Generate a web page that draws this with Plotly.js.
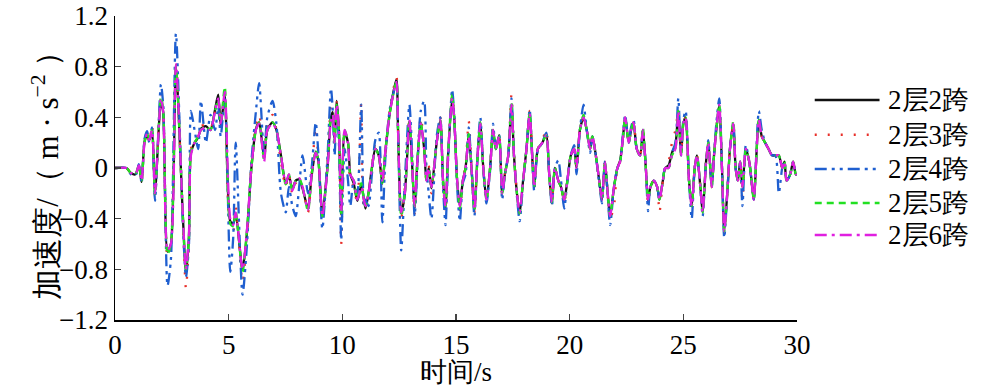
<!DOCTYPE html>
<html>
<head>
<meta charset="utf-8">
<script src="https://cdn.plot.ly/plotly-3.0.1.min.js"></script>
<style>html,body{margin:0;padding:0;background:#fff;}#chart{width:994px;height:387px;}
#diag{position:absolute;left:820px;top:360px;width:170px;font:8px monospace;color:#fff;}
</style>
</head>
<body>
<div id="chart"></div>
<div id="diag"></div>
<script>
// time (s), read at the visible turning points of the traces
const time = [
  0, 0.5, 0.7, 0.9, 1.05, 1.17, 1.3, 1.41, 1.51, 1.63,
  1.76, 2.02, 2.12, 2.31, 2.46, 2.68, 2.98, 3.12, 3.25, 3.34,
  3.5, 3.66, 3.78, 4.0, 4.2, 4.4, 4.54, 4.65, 4.83, 5.07,
  5.2, 5.31, 5.61, 5.8, 6.0, 6.2, 6.34, 6.56, 6.7, 6.93,
  7.1, 7.3, 7.51, 7.65, 7.8, 7.95, 8.1, 8.25, 8.49, 8.65,
  8.83, 8.95, 9.12, 9.35, 9.5, 9.58, 9.66, 9.75, 9.85, 9.95,
  10.1, 10.25, 10.35, 10.5, 10.66, 10.83, 10.95, 11.02, 11.15, 11.3,
  11.45, 11.6, 11.76, 11.9, 12.1, 12.38, 12.45, 12.59, 12.75, 12.95,
  13.05, 13.18, 13.3, 13.45, 13.6, 13.7, 13.8, 13.92, 14.15, 14.31,
  14.43, 14.54, 14.65, 14.83, 14.92, 15.05, 15.17, 15.3, 15.42, 15.56,
  15.7, 15.81, 15.95, 16.07, 16.2, 16.34, 16.5, 16.63, 16.75, 16.9,
  17.03, 17.15, 17.3, 17.44, 17.55, 17.68, 17.8, 17.95, 18.1, 18.24,
  18.35, 18.44, 18.6, 18.8, 18.97, 19.1, 19.22, 19.35, 19.5, 19.62,
  19.76, 19.9, 20.05, 20.2, 20.3, 20.45, 20.61, 20.75, 20.9, 21.0,
  21.15, 21.3, 21.42, 21.55, 21.65, 21.78, 21.95, 22.1, 22.22, 22.35,
  22.44, 22.6, 22.7, 22.81, 22.95, 23.1, 23.22, 23.35, 23.45, 23.55,
  23.7, 23.85, 23.95, 24.1, 24.2, 24.35, 24.5, 24.65, 24.78, 24.9,
  25.0, 25.1, 25.25, 25.37, 25.5, 25.6, 25.75, 25.85, 26.0, 26.1,
  26.25, 26.35, 26.45, 26.58, 26.7, 26.8, 26.95, 27.05, 27.2, 27.3,
  27.4, 27.5, 27.6, 27.75, 27.9, 28.0, 28.1, 28.32, 28.45, 28.6,
  28.75, 28.9, 29.05, 29.2, 29.35, 29.45, 29.54, 29.7, 29.83, 29.95,
  30
];

// 2层2跨 (black)
const span2 = [
  0, 0, -0.04, -0.05, 0.02, -0.11, 0.21, 0.26, 0.22, 0.29,
  -0.19, 0.53, 0.44, -0.66, -0.6, 0.8, -0.36, -0.82, -0.55, 0.12,
  0.2, 0.24, 0.31, 0.33, 0.3, 0.46, 0.58, 0.34, 0.57, -0.42,
  -0.44, -0.36, -0.8, -0.52, 0, 0.31, 0.36, 0.08, 0.3, 0.36,
  0.3, 0.1, -0.12, -0.06, -0.17, -0.1, -0.09, -0.16, -0.32, -0.06,
  0.13, 0.05, -0.37, 0.02, 0.4, 0.44, 0.22, 0.53, 0.3, -0.37,
  0.28, 0.2, -0.05, -0.12, -0.26, -0.14, -0.25, -0.32, -0.2, 0,
  0.15, 0.1, -0.12, 0.14, 0.45, 0.7, 0.3, -0.36, -0.2, 0.37,
  0.1, -0.32, 0.05, 0.36, 0.15, -0.1, 0, -0.16, 0.2, 0.38,
  -0.1, -0.32, 0.1, 0.55, 0.4, -0.1, -0.3, -0.1, 0, 0.26,
  -0.05, -0.33, 0.1, 0.36, 0, -0.25, 0, 0.3, 0.15, 0.26,
  -0.2, -0.05, 0.1, 0.5, 0.1, -0.2, -0.36, -0.1, 0.15, 0.44,
  0.1, -0.16, 0.15, 0.2, 0.27, -0.05, -0.28, 0, -0.1, -0.15,
  -0.25, -0.1, 0.1, 0.15, 0, 0.3, 0.4, 0.3, 0.15, 0.25,
  0.1, -0.1, -0.25, 0.05, -0.15, -0.38, -0.15, 0, 0.06, 0.25,
  0.4, 0.2, 0.3, 0.36, 0.15, 0.1, 0.3, 0, -0.26, -0.15,
  -0.1, -0.15, -0.25, -0.1, 0, 0.02, 0.12, 0.18, 0.45, 0.1,
  0.35, 0.4, -0.1, -0.3, 0, 0.1, -0.15, -0.35, 0.05, 0.2,
  -0.15, 0.1, 0.3, 0.5, 0, -0.5, -0.15, 0.15, 0.35, 0,
  -0.1, 0.05, -0.15, 0.15, 0.05, -0.1, -0.25, 0.38, 0.25, 0.2,
  0.15, 0.1, 0.1, 0.1, 0, 0.05, -0.1, -0.05, 0.05, -0.05,
  -0.05
];

// 2层3跨 (red)
const span3 = [
  0, 0, -0.04, -0.06, 0.02, -0.1, 0.22, 0.28, 0.2, 0.34,
  -0.22, 0.58, 0.47, -0.7, -0.62, 0.85, -0.38, -0.95, -0.6, 0.15,
  0.22, 0.26, 0.33, 0.34, 0.31, 0.44, 0.52, 0.35, 0.6, -0.48,
  -0.5, -0.3, -0.9, -0.55, 0.02, 0.34, 0.42, 0.1, 0.35, 0.42,
  0.3, 0.05, -0.15, -0.05, -0.2, -0.12, -0.1, -0.15, -0.35, -0.05,
  0.32, 0.06, -0.4, 0.05, 0.48, 0.43, 0.2, 0.52, 0.28, -0.6,
  0.3, 0.18, -0.1, -0.15, -0.28, 0.52, -0.3, -0.3, -0.22, 0.02,
  0.17, 0.12, -0.15, 0.15, 0.47, 0.72, 0.32, -0.4, -0.15, 0.4,
  0.12, -0.36, 0.06, 0.4, 0.18, -0.12, 0.02, -0.2, 0.22, 0.4,
  -0.1, -0.35, 0.1, 0.57, 0.4, -0.1, -0.33, -0.1, 0.02, 0.37,
  -0.05, -0.35, 0.1, 0.35, 0, -0.25, 0, 0.31, 0.15, 0.25,
  -0.22, -0.05, 0.12, 0.58, 0.12, -0.2, -0.35, -0.1, 0.15, 0.45,
  0.12, -0.15, 0.15, 0.22, 0.3, -0.05, -0.28, 0, -0.1, -0.15,
  -0.27, -0.1, 0.1, 0.15, 0, 0.3, 0.42, 0.3, 0.15, 0.26,
  0.1, -0.1, -0.25, 0.05, -0.15, -0.4, -0.3, 0, 0.05, 0.25,
  0.4, 0.2, 0.3, 0.36, 0.15, 0.1, 0.3, 0, -0.28, -0.15,
  -0.1, -0.15, -0.35, -0.1, 0, 0.05, 0.2, 0.3, 0.45, 0.1,
  0.35, 0.4, -0.1, -0.3, 0, 0.1, -0.15, -0.35, 0.05, 0.2,
  -0.15, 0.1, 0.3, 0.5, 0, -0.5, -0.15, 0.15, 0.35, 0,
  -0.1, 0.05, -0.25, 0.15, 0.05, -0.1, -0.25, 0.4, 0.25, 0.2,
  0.15, 0.1, 0.1, 0.1, 0, 0.05, -0.1, -0.05, 0.05, -0.05,
  -0.05
];

// 2层4跨 (blue)
const span4 = [
  0, 0, -0.05, -0.06, 0.03, -0.12, 0.23, 0.29, 0.2, 0.32,
  -0.26, 0.66, 0.5, -0.93, -0.72, 1.06, -0.42, -0.86, -0.62, 0.45,
  0.3, 0.15, 0.53, 0.2, 0.42, 0.3, 0.48, 0.25, 0.55, -0.82,
  -0.55, 0.2, -1.0, -0.62, 0.05, 0.45, 0.67, 0.1, 0.4, 0.53,
  0.35, -0.2, -0.35, -0.15, -0.3, -0.38, -0.15, 0.1, -0.2, 0,
  0.36, 0.1, -0.48, 0.1, 0.63, 0.45, 0.1, 0.48, 0.2, -0.57,
  0.15, -0.1, -0.3, -0.1, -0.2, 0.5, -0.3, -0.25, -0.3, -0.05,
  0.22, 0.28, -0.43, 0.1, 0.48, 0.66, 0.3, -0.65, -0.1, 0.5,
  0.2, -0.38, 0, 0.45, 0.53, 0, -0.2, -0.4, 0.25, 0.4,
  -0.15, -0.45, 0.05, 0.62, 0.42, -0.15, -0.42, -0.12, -0.05, 0.32,
  -0.05, -0.38, 0.12, 0.4, 0, -0.28, -0.02, 0.35, 0.15, 0.26,
  -0.25, -0.05, 0.1, 0.55, 0.1, -0.22, -0.42, -0.12, 0.15, 0.46,
  0.1, -0.18, 0.14, 0.2, 0.28, -0.05, -0.3, 0, 0.06, -0.1,
  -0.32, -0.1, 0.1, 0.18, -0.05, 0.3, 0.5, 0.3, 0.12, 0.25,
  0.1, -0.12, -0.28, 0.05, -0.15, -0.45, -0.15, 0, 0.05, 0.28,
  0.42, 0.2, 0.32, 0.38, 0.15, 0.1, 0.3, 0, -0.34, -0.15,
  -0.1, -0.15, -0.25, -0.1, 0, 0, 0.12, 0.2, 0.55, 0.1,
  0.38, 0.45, -0.1, -0.4, 0, 0.1, -0.15, -0.38, 0.05, 0.22,
  -0.15, 0.1, 0.35, 0.55, 0, -0.55, -0.15, 0.15, 0.35, 0,
  -0.1, 0.05, -0.3, 0.18, 0.05, -0.1, -0.25, 0.45, 0.3, 0.2,
  0.15, 0.1, 0.1, -0.2, 0, 0.05, -0.1, -0.05, 0.05, -0.05,
  -0.05
];

// 2层5跨 (green)
const span5 = [
  0, 0, -0.04, -0.05, 0.02, -0.1, 0.2, 0.27, 0.23, 0.3,
  -0.21, 0.56, 0.46, -0.68, -0.6, 0.8, -0.36, -0.8, -0.56, 0.12,
  0.2, 0.25, 0.3, 0.33, 0.3, 0.45, 0.54, 0.36, 0.64, -0.44,
  -0.46, -0.34, -0.82, -0.5, 0, 0.3, 0.36, 0.06, 0.3, 0.36,
  0.3, 0.08, -0.13, -0.05, -0.18, -0.1, -0.08, -0.15, -0.34, -0.05,
  0.14, 0.05, -0.38, 0, 0.4, 0.42, 0.2, 0.5, 0.3, -0.38,
  0.3, 0.2, -0.05, -0.1, -0.25, -0.12, -0.25, -0.3, -0.2, 0,
  0.15, 0.1, -0.12, 0.15, 0.45, 0.68, 0.3, -0.38, -0.2, 0.38,
  0.1, -0.3, 0.05, 0.35, 0.15, -0.1, 0, -0.15, 0.2, 0.38,
  -0.1, -0.3, 0.1, 0.58, 0.4, -0.1, -0.32, -0.1, 0, 0.27,
  -0.05, -0.34, 0.1, 0.36, 0, -0.25, 0, 0.31, 0.15, 0.25,
  -0.2, -0.05, 0.1, 0.52, 0.1, -0.2, -0.36, -0.1, 0.15, 0.44,
  0.1, -0.15, 0.15, 0.2, 0.26, -0.05, -0.27, 0, -0.1, -0.15,
  -0.26, -0.1, 0.1, 0.15, 0, 0.3, 0.42, 0.3, 0.15, 0.25,
  0.1, -0.1, -0.25, 0.05, -0.15, -0.38, -0.15, 0, 0.05, 0.25,
  0.4, 0.2, 0.3, 0.36, 0.15, 0.1, 0.32, 0, -0.25, -0.15,
  -0.1, -0.15, -0.25, -0.1, 0, 0, 0.1, 0.15, 0.45, 0.1,
  0.35, 0.4, -0.1, -0.3, 0, 0.1, -0.15, -0.35, 0.05, 0.2,
  -0.15, 0.1, 0.3, 0.5, 0, -0.5, -0.15, 0.15, 0.37, 0,
  -0.1, 0.05, -0.15, 0.15, 0.05, -0.1, -0.25, 0.38, 0.25, 0.2,
  0.15, 0.1, 0.1, 0.1, 0, 0.05, -0.1, -0.05, 0.05, -0.05,
  -0.05
];

// 2层6跨 (magenta)
const span6 = [
  0, 0, -0.04, -0.05, 0.02, -0.1, 0.2, 0.27, 0.22, 0.3,
  -0.2, 0.55, 0.45, -0.65, -0.6, 0.82, -0.35, -0.8, -0.55, 0.1,
  0.2, 0.25, 0.3, 0.32, 0.3, 0.45, 0.55, 0.35, 0.6, -0.4,
  -0.45, -0.35, -0.8, -0.5, 0, 0.3, 0.35, 0.05, 0.3, 0.35,
  0.3, 0.1, -0.12, -0.05, -0.18, -0.1, -0.08, -0.15, -0.33, -0.05,
  0.12, 0.05, -0.38, 0, 0.38, 0.42, 0.2, 0.5, 0.3, -0.35,
  0.3, 0.2, -0.05, -0.1, -0.25, -0.15, -0.25, -0.3, -0.2, 0,
  0.15, 0.1, -0.1, 0.15, 0.45, 0.68, 0.3, -0.35, -0.2, 0.38,
  0.1, -0.3, 0.05, 0.35, 0.15, -0.1, 0, -0.15, 0.2, 0.38,
  -0.1, -0.3, 0.1, 0.55, 0.4, -0.1, -0.3, -0.1, 0, 0.25,
  -0.05, -0.33, 0.1, 0.35, 0, -0.25, 0, 0.3, 0.15, 0.25,
  -0.2, -0.05, 0.1, 0.5, 0.1, -0.2, -0.35, -0.1, 0.15, 0.43,
  0.1, -0.15, 0.15, 0.2, 0.26, -0.05, -0.27, 0, -0.1, -0.15,
  -0.25, -0.1, 0.1, 0.15, 0, 0.3, 0.4, 0.3, 0.15, 0.25,
  0.1, -0.1, -0.25, 0.05, -0.15, -0.38, -0.15, 0, 0.05, 0.25,
  0.4, 0.2, 0.3, 0.36, 0.15, 0.1, 0.3, 0, -0.25, -0.15,
  -0.1, -0.15, -0.25, -0.1, 0, 0, 0.1, 0.15, 0.45, 0.1,
  0.35, 0.4, -0.1, -0.3, 0, 0.1, -0.15, -0.35, 0.05, 0.2,
  -0.15, 0.1, 0.3, 0.5, 0, -0.5, -0.15, 0.15, 0.35, 0,
  -0.1, 0.05, -0.15, 0.15, 0.05, -0.1, -0.25, 0.38, 0.25, 0.2,
  0.15, 0.1, 0.1, 0.1, 0, 0.05, -0.1, -0.05, 0.05, -0.05,
  -0.05
];

const seriesNames = ['2层2跨', '2层3跨', '2层4跨', '2层5跨', '2层6跨'];
const yTickVals = [-1.2, -0.8, -0.4, 0, 0.4, 0.8, 1.2];
const xTickVals = [0, 5, 10, 15, 20, 25, 30];

const values = [span2, span3, span4, span5, span6];
const colors = ['#111111', '#e8302a', '#1f5fd0', '#22e022', '#e020e0'];
const dashes = ['solid', '2px,11px', '12px,5px,3px,5px,3px,5px', '7px,5px', '12px,5px,3px,5px'];

const traces = values.map((v, i) => ({
  x: time, y: v, name: seriesNames[i], type: 'scatter', mode: 'lines', showlegend: false,
  line: {color: colors[i], width: 2.3, dash: dashes[i], shape: 'spline', smoothing: 0.7}
}));

const FONT = "'Liberation Serif', serif";

// hand-built legend (line samples + labels) and rotated y title, in paper coordinates
const legRowsY = [0.724, 0.609, 0.497, 0.385, 0.280];
const shapes = [];
const annotations = [];
seriesNames.forEach((nm, i) => {
  shapes.push({type: 'line', xref: 'paper', yref: 'paper', x0: 1.026, x1: 1.121,
    y0: legRowsY[i], y1: legRowsY[i], line: {color: colors[i], width: 2.5, dash: dashes[i]}});
  annotations.push({xref: 'paper', yref: 'paper', x: 1.131, y: legRowsY[i], xanchor: 'left', yanchor: 'middle',
    text: nm, showarrow: false, font: {size: 27}});
});
annotations.push({xref: 'paper', yref: 'paper', x: -0.103, y: 0.5, xanchor: 'center', yanchor: 'middle',
  textangle: -90, text: '加速度/（ m · s<sup>−2</sup> ）', showarrow: false, font: {size: 31}});

const layout = {
  width: 994, height: 387,
  margin: {l: 115, r: 197, t: 16, b: 67},
  font: {family: FONT, size: 27, color: '#000'},
  showlegend: false,
  shapes: shapes,
  annotations: annotations,
  xaxis: {
    range: [0, 30], tickvals: xTickVals, ticks: 'inside', ticklen: 6, tickwidth: 1.5,
    showline: true, linecolor: '#000', linewidth: 1.5, showgrid: false, zeroline: false,
    tickfont: {size: 27},
    title: {text: '时间/s', font: {size: 27}, standoff: 2}
  },
  yaxis: {
    range: [-1.2, 1.2], tickvals: yTickVals, ticks: 'inside', ticklen: 6, tickwidth: 1.5,
    showline: true, linecolor: '#000', linewidth: 1.5, showgrid: false, zeroline: false,
    tickfont: {size: 27}
  }
};

Plotly.newPlot('chart', traces, layout, {staticPlot: true}).then(function (gd) {
  const t = document.querySelector('.xtick text');
  document.getElementById('diag').textContent = getComputedStyle(t).fontFamily;
  return Plotly.relayout(gd, {'font.family': FONT});
});
</script>
</body>
</html>
